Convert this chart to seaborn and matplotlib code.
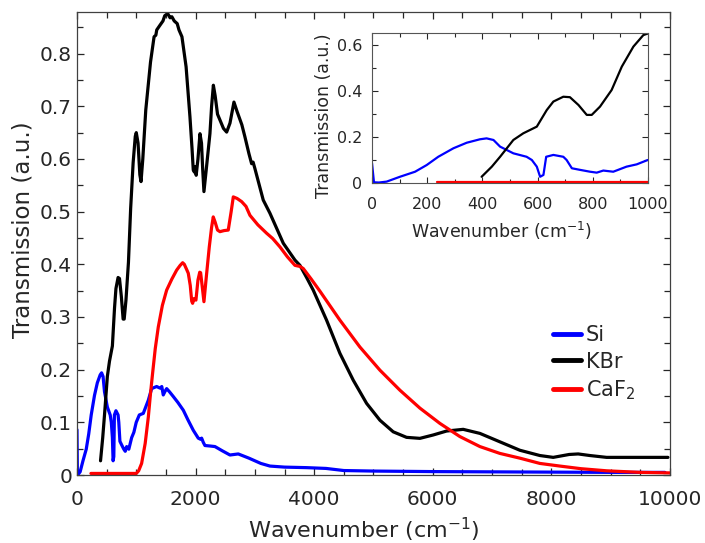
import numpy as np
import pandas as pd
import matplotlib
matplotlib.use("Agg")
import matplotlib.pyplot as plt
from matplotlib.ticker import MultipleLocator
import seaborn as sns

# Transmission spectra (wavenumber in cm^-1, transmission in a.u.)
si_x = [0, 7, 25, 53, 101, 156, 198, 240, 295, 343, 391, 415, 440, 464, 512,
        560, 579, 597, 609, 621, 631, 657, 693, 705, 724, 754, 790, 814, 838,
        874, 922, 959, 999, 1051, 1118, 1203, 1259, 1300, 1343, 1400, 1430,
        1455, 1490, 1512, 1560, 1624, 1700, 1793, 1870, 1961, 2045, 2080,
        2102, 2130, 2158, 2250, 2327, 2450, 2580, 2720, 2900, 3100, 3254,
        3500, 3872, 4200, 4500, 5000, 6000, 7000, 8000, 9000, 9915]
si_y = [0.086, 0.003, 0.002, 0.006, 0.027, 0.049, 0.078, 0.114, 0.151, 0.175,
        0.190, 0.194, 0.187, 0.158, 0.129, 0.114, 0.100, 0.071, 0.027, 0.035,
        0.114, 0.122, 0.114, 0.100, 0.064, 0.057, 0.049, 0.045, 0.054, 0.049,
        0.071, 0.081, 0.100, 0.114, 0.117, 0.142, 0.164, 0.166, 0.168, 0.165,
        0.168, 0.152, 0.160, 0.164, 0.158, 0.149, 0.138, 0.123, 0.105, 0.085,
        0.070, 0.068, 0.070, 0.062, 0.056, 0.055, 0.054, 0.046, 0.038, 0.040,
        0.032, 0.022, 0.017, 0.015, 0.0140, 0.0125, 0.0085, 0.0075, 0.0065,
        0.006, 0.0055, 0.005, 0.005]

kbr_x = [397, 434, 464, 512, 548, 597, 633, 657, 693, 717, 748, 778, 796, 826,
         868, 905, 947, 983, 1000, 1030, 1060, 1080, 1110, 1160, 1240, 1300,
         1330, 1345, 1400, 1450, 1480, 1530, 1570, 1600, 1640, 1690, 1720,
         1770, 1840, 1905, 1940, 1961, 1980, 1995, 2010, 2040, 2074, 2100,
         2120, 2141, 2180, 2242, 2270, 2300, 2330, 2370, 2411, 2470, 2524,
         2580, 2647, 2700, 2780, 2832, 2900, 2945, 2970, 3000, 3141, 3254,
         3479, 3676, 3760, 3872, 3984, 4209, 4434, 4659, 4884, 5109, 5333,
         5558, 5783, 6007, 6233, 6513, 6795, 7132, 7469, 7806, 8031, 8300,
         8452, 8650, 8931, 9500, 9966]
kbr_y = [0.027, 0.071, 0.114, 0.187, 0.216, 0.245, 0.317, 0.354, 0.375, 0.373,
         0.339, 0.296, 0.296, 0.332, 0.404, 0.506, 0.593, 0.643, 0.650, 0.630,
         0.570, 0.557, 0.600, 0.693, 0.784, 0.832, 0.835, 0.845, 0.854, 0.862,
         0.872, 0.876, 0.868, 0.870, 0.862, 0.857, 0.845, 0.832, 0.775, 0.680,
         0.620, 0.579, 0.575, 0.585, 0.569, 0.600, 0.648, 0.630, 0.580, 0.538,
         0.580, 0.648, 0.700, 0.740, 0.720, 0.685, 0.674, 0.658, 0.651, 0.668,
         0.708, 0.690, 0.665, 0.642, 0.610, 0.591, 0.594, 0.582, 0.522, 0.497,
         0.440, 0.408, 0.398, 0.375, 0.351, 0.294, 0.231, 0.180, 0.136, 0.104,
         0.082, 0.0715, 0.0696, 0.076, 0.0835, 0.0867, 0.079, 0.063, 0.047,
         0.037, 0.0335, 0.039, 0.040, 0.037, 0.0335, 0.0335, 0.0335]

caf2_x = [235, 400, 600, 800, 1000, 1040, 1090, 1150, 1203, 1240, 1275, 1320,
          1371, 1440, 1512, 1600, 1681, 1740, 1782, 1810, 1850, 1877, 1910,
          1935, 1950, 1975, 2006, 2040, 2070, 2085, 2110, 2141, 2180, 2231,
          2270, 2298, 2330, 2370, 2411, 2480, 2551, 2600, 2636, 2700, 2777,
          2850, 2917, 3050, 3198, 3300, 3423, 3550, 3676, 3760, 3816, 3950,
          4097, 4434, 4771, 5109, 5446, 5783, 6120, 6457, 6795, 7132, 7469,
          7806, 8143, 8500, 8931, 9500, 10000]
caf2_y = [0.003, 0.003, 0.003, 0.003, 0.003, 0.008, 0.022, 0.060, 0.110, 0.155,
          0.193, 0.240, 0.281, 0.322, 0.351, 0.372, 0.389, 0.398, 0.403, 0.400,
          0.390, 0.383, 0.360, 0.330, 0.326, 0.335, 0.332, 0.370, 0.385, 0.384,
          0.360, 0.329, 0.375, 0.433, 0.470, 0.490, 0.480, 0.465, 0.462, 0.464,
          0.465, 0.500, 0.528, 0.525, 0.519, 0.510, 0.493, 0.475, 0.459, 0.449,
          0.433, 0.414, 0.398, 0.396, 0.392, 0.372, 0.349, 0.294, 0.243, 0.199,
          0.161, 0.127, 0.098, 0.073, 0.054, 0.041, 0.032, 0.022, 0.017, 0.012,
          0.008, 0.005, 0.004]

labels = ["Si", "KBr", "CaF$_2$"]
colors = ["#0000ff", "#000000", "#ff0000"]

spectra = pd.concat([
    pd.DataFrame({"wavenumber": si_x, "transmission": si_y, "sample": labels[0]}),
    pd.DataFrame({"wavenumber": kbr_x, "transmission": kbr_y, "sample": labels[1]}),
    pd.DataFrame({"wavenumber": caf2_x, "transmission": caf2_y, "sample": labels[2]}),
], ignore_index=True)
palette = dict(zip(labels, colors))

sns.set_theme(style="ticks")
plt.rcParams["font.family"] = ["DejaVu Sans"]
text_color = "#262626"
plt.rcParams.update({
    "text.color": text_color,
    "axes.labelcolor": text_color,
    "xtick.color": text_color,
    "ytick.color": text_color,
    "axes.edgecolor": "#404040",
    "mathtext.default": "regular",
})

fig = plt.figure(figsize=(7.05, 5.43), dpi=100)
ax = fig.add_axes([0.1092, 0.1252, 0.8411, 0.8527])

sns.lineplot(data=spectra, x="wavenumber", y="transmission", hue="sample",
             palette=palette, hue_order=labels,
             estimator=None, sort=False, linewidth=2.3, ax=ax)

ax.set_xlim(0, 10000)
ax.set_ylim(0, 0.879)
ax.set_xticks(np.arange(0, 10001, 2000))
ax.set_yticks(np.arange(0, 0.81, 0.1))
ax.set_yticklabels(["0"] + [f"{v:.1f}" for v in np.arange(0.1, 0.81, 0.1)])
ax.xaxis.set_minor_locator(MultipleLocator(500))
ax.yaxis.set_minor_locator(MultipleLocator(0.05))
ax.tick_params(which="both", direction="in", top=True, right=True,
               labelsize=14.5, width=0.9)
ax.tick_params(which="major", length=5)
ax.tick_params(which="minor", length=4)
ax.tick_params(axis="x", which="major", pad=11)
ax.tick_params(axis="y", which="major", pad=3.5)
for s in ax.spines.values():
    s.set_linewidth(0.9)
ax.set_xlabel("Wavenumber (cm$^{-1}$)", fontsize=16)
ax.set_ylabel("Transmission (a.u.)", fontsize=16.5)
ax.xaxis.set_label_coords(0.484, -0.089)
ax.yaxis.set_label_coords(-0.072, 0.529)

leg = ax.legend(loc="upper left", bbox_to_anchor=(0.802, 0.323), frameon=False,
                fontsize=15, handlelength=1.35, handletextpad=0.25,
                labelspacing=0.3, borderpad=0, borderaxespad=0)
for line in leg.get_lines():
    line.set_linewidth(3.5)

# Inset: low-wavenumber region
ins = fig.add_axes([0.5277, 0.663, 0.3915, 0.2762])
sns.lineplot(data=spectra[spectra["wavenumber"] <= 1000], x="wavenumber",
             y="transmission", hue="sample", palette=palette,
             hue_order=labels, estimator=None, sort=False, linewidth=1.6,
             legend=False, ax=ins)
ins.set_xlim(0, 1000)
ins.set_ylim(0, 0.652)
ins.set_xticks(np.arange(0, 1001, 200))
ins.set_yticks([0, 0.2, 0.4, 0.6])
ins.set_yticklabels(["0", "0.2", "0.4", "0.6"])
ins.xaxis.set_minor_locator(MultipleLocator(100))
ins.yaxis.set_minor_locator(MultipleLocator(0.1))
ins.tick_params(which="both", direction="in", top=True, right=True,
                labelsize=11.5, width=0.8)
ins.tick_params(which="major", length=4)
ins.tick_params(which="minor", length=3)
ins.tick_params(axis="x", which="major", pad=10)
ins.tick_params(axis="y", which="major", pad=7)
for s in ins.spines.values():
    s.set_linewidth(0.8)
    s.set_edgecolor("#555555")
ins.set_xlabel("Wavenumber (cm$^{-1}$)", fontsize=12.5)
ins.set_ylabel("Transmission (a.u.)", fontsize=12.5)
ins.xaxis.set_label_coords(0.471, -0.247)
ins.yaxis.set_label_coords(-0.141, 0.447)

fig.savefig("out.png", dpi=100)
